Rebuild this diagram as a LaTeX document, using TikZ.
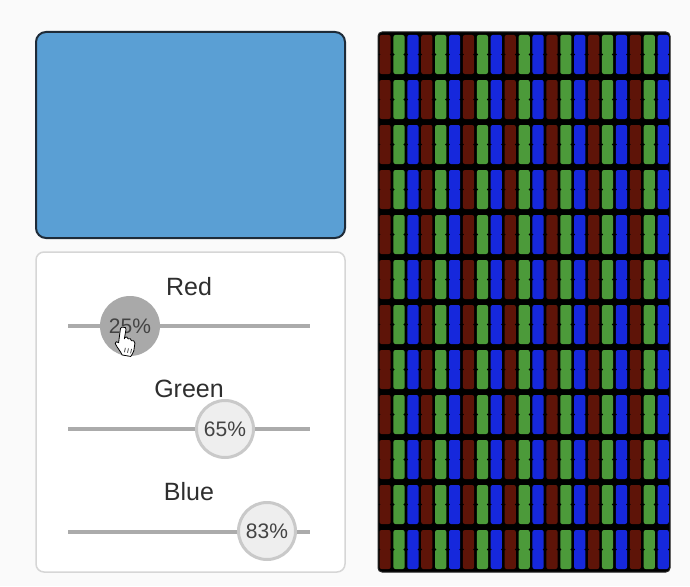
\documentclass[tikz,border=0pt]{standalone}
\usepackage{fontspec}
\setmainfont{Liberation Sans}
\definecolor{screenblue}{HTML}{5A9FD4}
\definecolor{screenedge}{HTML}{1E2B38}
\definecolor{paneledge}{HTML}{D6D6D6}
\definecolor{trackgray}{HTML}{ABABAB}
\definecolor{knobfill}{HTML}{EEEEEE}
\definecolor{knobedge}{HTML}{C9C9C9}
\definecolor{knobpress}{HTML}{A9A9A9}
\definecolor{labeltext}{HTML}{2E2E2E}
\definecolor{subred}{HTML}{5E1408}
\definecolor{subgreen}{HTML}{4C9A3A}
\definecolor{subblue}{HTML}{1628DC}
\tikzset{
  label text/.style={text=labeltext, font=\fontsize{25}{30}\selectfont, anchor=base, inner sep=0},
  pct text/.style={text=labeltext!90!white, font=\fontsize{21}{25}\selectfont, inner sep=0},
  track/.style={trackgray, line width=4pt},
  knob/.style={circle, fill=knobfill, draw=knobedge, line width=3pt, minimum size=57pt, inner sep=0},
  pressed knob/.style={circle, fill=knobpress, minimum size=60pt, inner sep=0},
  stripe/.style={rounded corners=2pt},
}
\begin{document}
\begin{tikzpicture}[x=1pt,y=-1pt]
\useasboundingbox (0,0) rectangle (690,586);
\fill[white!98!black] (0,0) rectangle (690,586);

% colour preview screen
\draw[fill=screenblue, draw=screenedge, line width=2pt, rounded corners=10pt] (36,32) rectangle (345,238);

% slider panel
\draw[fill=white, draw=paneledge, line width=1.5pt, rounded corners=8pt] (36,252) rectangle (345,572);

% Red slider
\node[label text] (redlbl) at (189,295) {Red};
\draw[track] (68,326) -- (310,326);
\node[pressed knob] (redknob) at (130,326) {};
\node[pct text] (redpct) at (130,326) {25\%};

% Green slider
\node[label text] (greenlbl) at (189,397) {Green};
\draw[track] (68,429) -- (310,429);
\node[knob] (greenknob) at (225,429) {};
\node[pct text] (greenpct) at (225,429) {65\%};

% Blue slider
\node[label text] (bluelbl) at (189,500) {Blue};
\draw[track] (68,532) -- (310,532);
\node[knob] (blueknob) at (267,531) {};
\node[pct text] (bluepct) at (267,531) {83\%};

% hand cursor
\begin{scope}[shift={(122,327)}, rotate=-10, scale=1.25]
\draw[black, fill=white, line width=0.8pt, line join=round]
 (1,0) .. controls (2.5,-0.5) and (3.5,0) .. (3.5,1.5) -- (3.5,9)
 -- (3.7,8) .. controls (4,6.8) and (6.3,6.8) .. (6.5,8.5)
 .. controls (7,7.6) and (9.2,7.8) .. (9.4,9.5)
 .. controls (10,8.8) and (12.3,9) .. (12.4,10.8)
 -- (12.6,17) .. controls (12.5,19) and (11.5,20.5) .. (11,22) -- (4,22)
 .. controls (2,19) and (-1,17) .. (-3,14) .. controls (-3.5,12.5) and (-2,11.5) .. (-0.5,12.8)
 -- (-1,1.5) .. controls (-1,0.3) and (0,0) .. (1,0) -- cycle;
\draw[black, line width=0.6pt] (5.5,16) -- (5.5,19.5) (8,16) -- (8,19.5) (10.5,16) -- (10.5,19.5);
\end{scope}

% sub-pixel display
\draw[fill=black, draw=black!85, line width=1pt, rounded corners=4pt] (378,32) rectangle (670,572);
\foreach \k in {0,...,6}{
  \foreach \j in {0,...,11}{
    \pgfmathsetmacro\xa{378+\k*41.714}
    \pgfmathsetmacro\ya{32+\j*45}
    \fill[subred, stripe]   (\xa+1.5,\ya+3) rectangle ++(11.2,39);
    \fill[subgreen, stripe] (\xa+15.4,\ya+3) rectangle ++(11.2,39);
    \fill[subblue, stripe]  (\xa+29.3,\ya+3) rectangle ++(11.2,39);
    \fill[black] (\xa+15.4,\ya+22.5) circle (1.2pt) (\xa+26.6,\ya+22.5) circle (1.2pt);
    \fill[black] (\xa+1.5,\ya+22.5) circle (0.9pt) (\xa+12.7,\ya+22.5) circle (0.9pt);
    \fill[black] (\xa+29.3,\ya+22.5) circle (0.9pt) (\xa+40.5,\ya+22.5) circle (0.9pt);
  }
}
\end{tikzpicture}
\end{document}
